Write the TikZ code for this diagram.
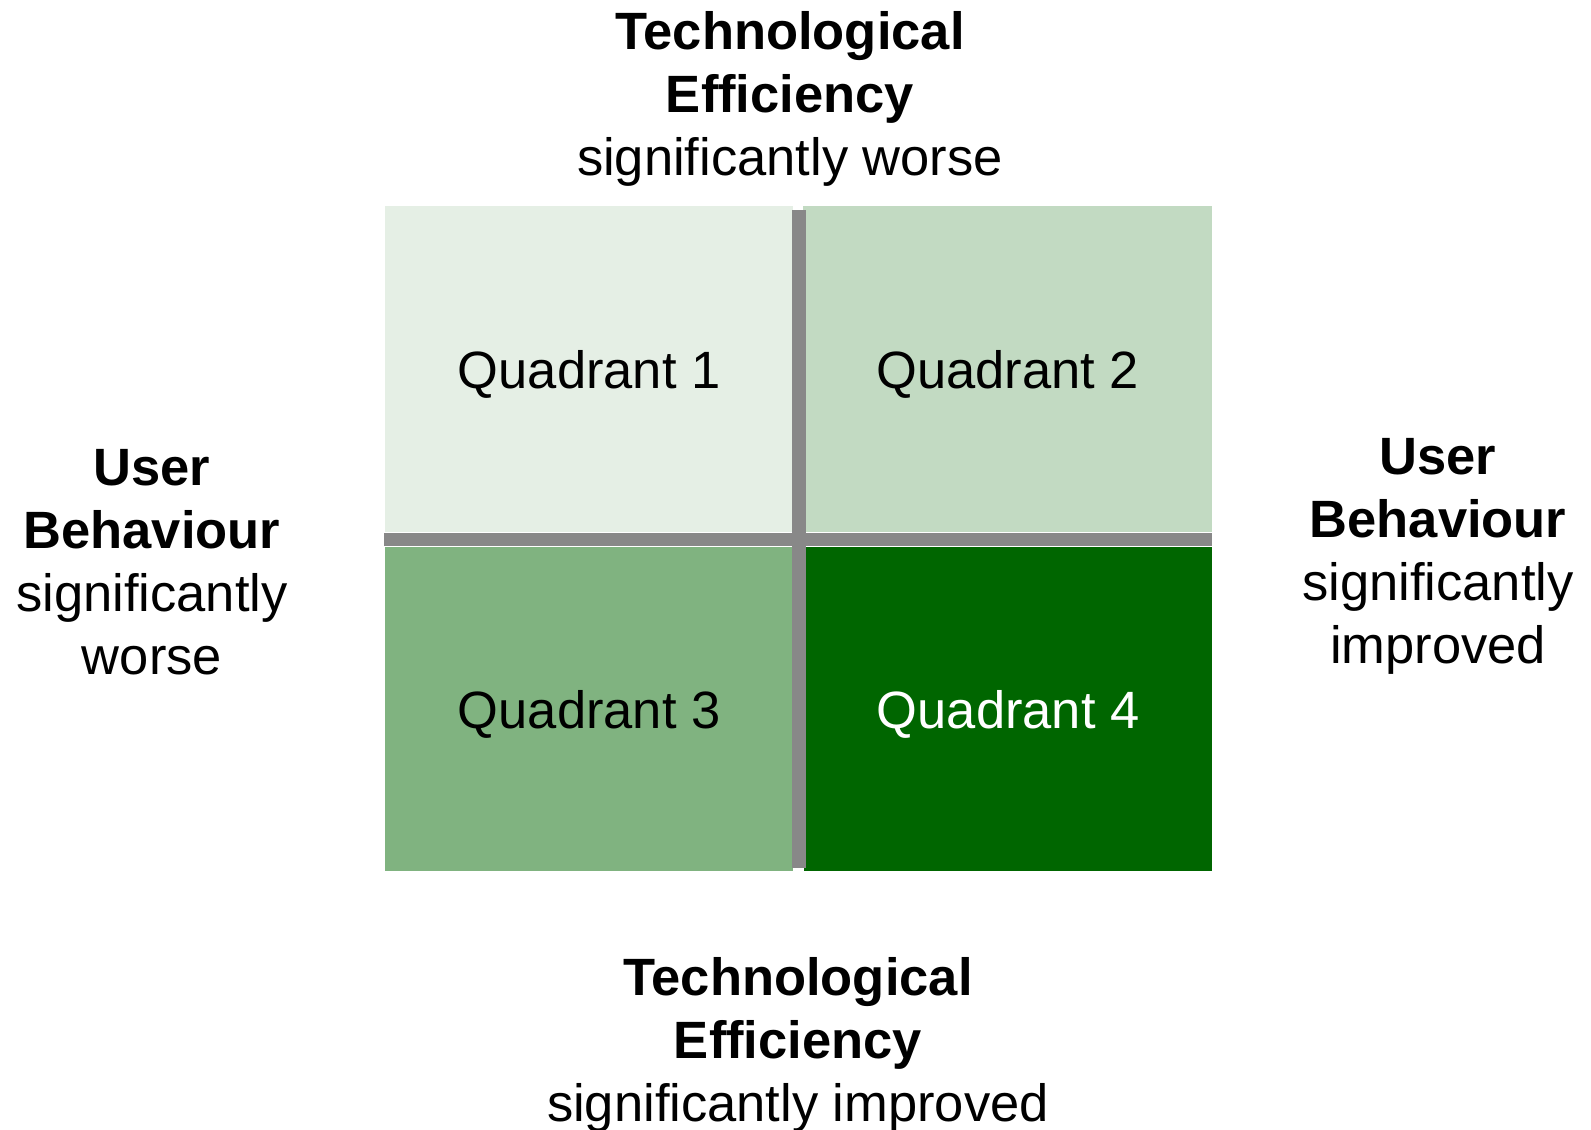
\documentclass[tikz,border=0pt]{standalone}
\usepackage{fontspec}
\setmainfont{Liberation Sans}
\definecolor{qone}{HTML}{E5EFE5}
\definecolor{qtwo}{HTML}{C2DAC2}
\definecolor{qthree}{HTML}{80B380}
\definecolor{qfour}{HTML}{006600}
\definecolor{divider}{HTML}{888888}
\begin{document}
\begin{tikzpicture}[x=1pt,y=-1pt,
  quad/.style={draw=none,inner sep=0pt,anchor=north west,text height=39pt,text depth=0pt,font=\fontsize{52.5}{63}\selectfont},
  axislabel/.style={inner sep=0pt,align=center,anchor=base,font=\fontsize{52.5}{63}\selectfont},
  divline/.style={draw=divider,line width=13.5pt}]
\useasboundingbox (0,0) rectangle (1591,1130);
\node[quad,fill=qone,minimum width=408pt,minimum height=326pt] (q1) at (385,206) {Quadrant 1};
\node[quad,fill=qtwo,minimum width=409pt,minimum height=326pt] (q2) at (803,206) {Quadrant 2};
\node[quad,fill=qthree,minimum width=408pt,minimum height=324pt] (q3) at (385,547) {Quadrant 3};
\node[quad,fill=qfour,text=white,minimum width=408pt,minimum height=324pt] (q4) at (804,547) {Quadrant 4};
\coordinate (vtop) at (799,210);
\coordinate (vbot) at (799,868);
\coordinate (hleft) at (384,539.5);
\coordinate (hright) at (1212,539.5);
\draw[divline] (vtop) -- (vbot);
\draw[divline] (hleft) -- (hright);
\node[axislabel] (top) at (790,175) {\textbf{Technological}\\\textbf{Efficiency}\\significantly worse};
\node[axislabel] (bottom) at (798,1121) {\textbf{Technological}\\\textbf{Efficiency}\\significantly improved};
\node[axislabel] (left) at (152,674) {\textbf{User}\\\textbf{Behaviour}\\significantly\\worse};
\node[axislabel] (right) at (1438,663) {\textbf{User}\\\textbf{Behaviour}\\significantly\\improved};
\end{tikzpicture}
\end{document}
